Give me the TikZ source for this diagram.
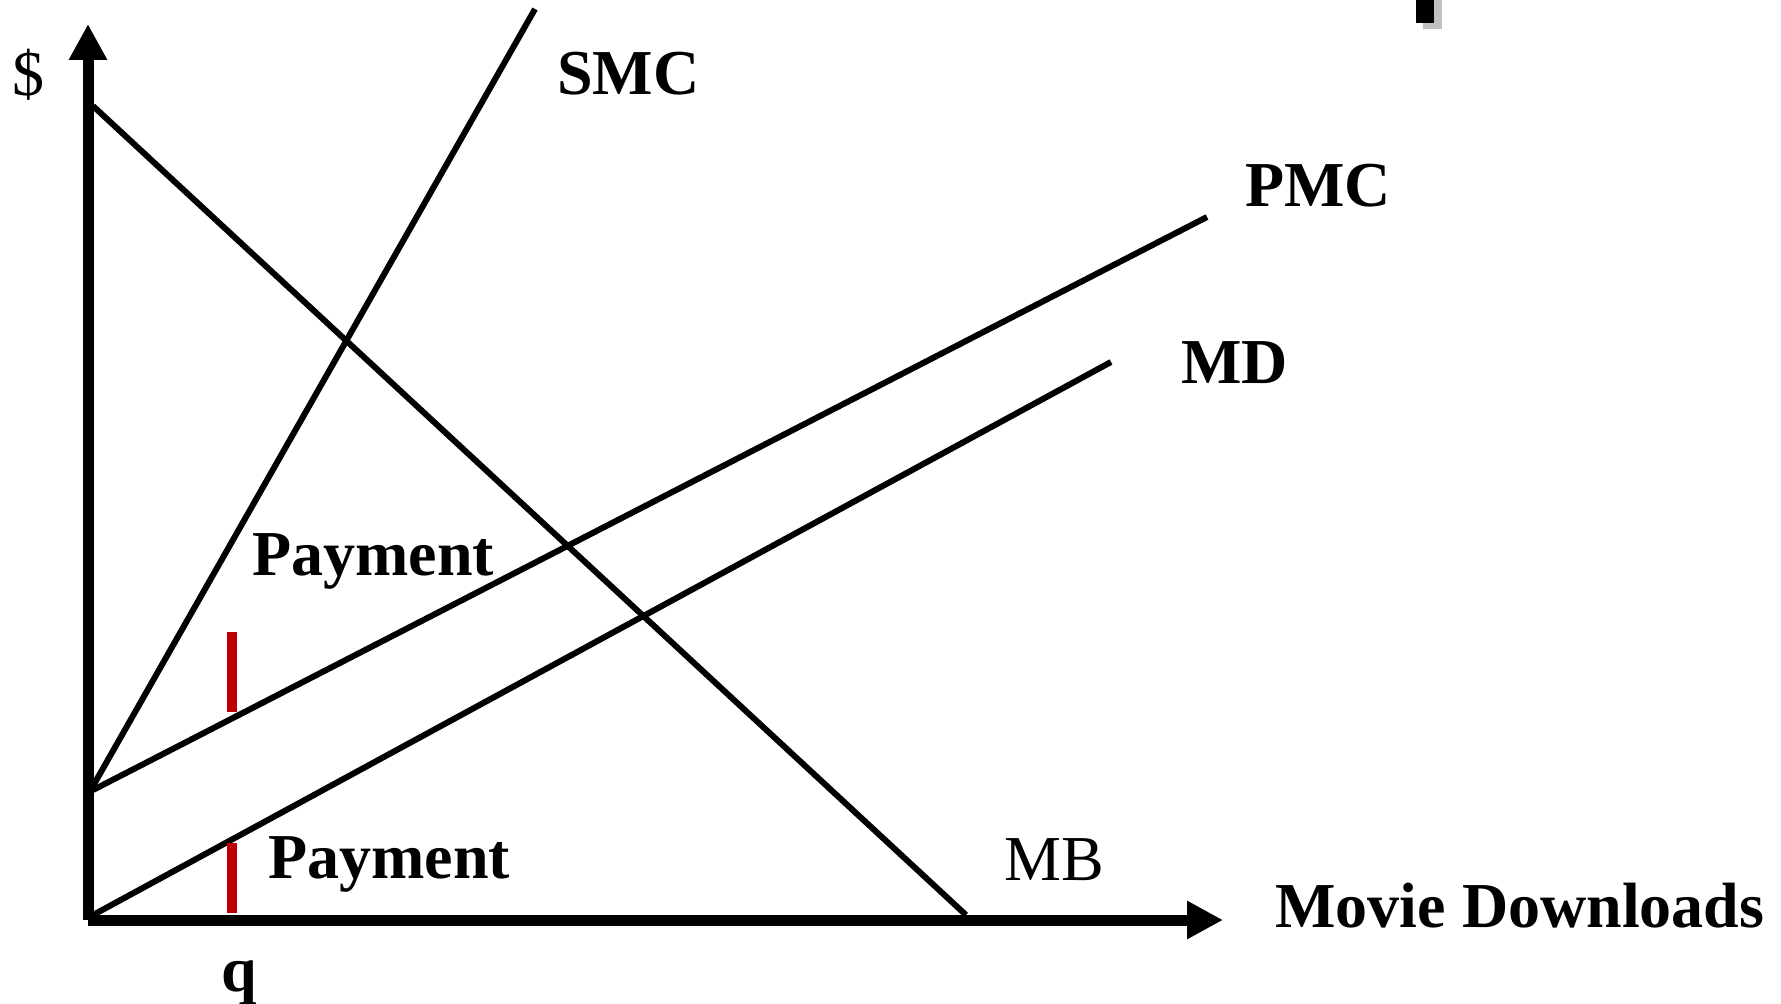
\documentclass[tikz,border=0pt]{standalone}
\usepackage{fontspec}
\setmainfont{Liberation Serif}
\usetikzlibrary{arrows.meta}
\definecolor{PayRed}{HTML}{C00000}
\definecolor{MarkGray}{HTML}{C0C0C0}
\tikzset{
  axis line/.style = {line width=5.5pt, -{Triangle[length=18pt,width=18pt]}},
  curve/.style = {line width=3pt},
  payment mark/.style = {draw=PayRed, line width=5pt},
  curve label/.style = {
    font=\fontsize{32}{38}\selectfont\bfseries,
    anchor=base west,
    inner sep=0pt
  },
  plain label/.style = {curve label, font=\fontsize{32}{38}\selectfont},
}

\begin{document}
\begin{tikzpicture}[x=0.5pt,y=-0.5pt]
  \useasboundingbox (0,0) rectangle (1781,1004);

  % corner mark
  \fill[MarkGray] (1423,0) rectangle (1442,29);
  \fill[black] (1416,0) rectangle (1434,23);

  \coordinate (origin) at (88,920);
  \coordinate (ytip) at (88,24);
  \coordinate (xtip) at (1223,920);

  \coordinate (mb start) at (93,106);
  \coordinate (mb end) at (966,915);
  \coordinate (smc start) at (93,786);
  \coordinate (smc end) at (535,9);
  \coordinate (pmc start) at (93,790);
  \coordinate (pmc end) at (1207,217);
  \coordinate (md start) at (93,915);
  \coordinate (md end) at (1111,362);

  \coordinate (pay top a) at (232,632);
  \coordinate (pay top b) at (232,712);
  \coordinate (pay low a) at (232,843);
  \coordinate (pay low b) at (232,913);

  \draw[axis line] (origin) -- (ytip);
  \draw[axis line] (origin) -- (xtip);

  \draw[curve] (mb start) -- (mb end);
  \draw[curve] (smc start) -- (smc end);
  \draw[curve] (pmc start) -- (pmc end);
  \draw[curve] (md start) -- (md end);

  \draw[payment mark] (pay top a) -- (pay top b);
  \draw[payment mark] (pay low a) -- (pay low b);

  \node[plain label] (dollar) at (12,96) {\$};
  \node[curve label] (smc) at (557,95) {SMC};
  \node[curve label] (pmc) at (1245,207) {PMC};
  \node[curve label] (md) at (1181,384) {MD};
  \node[plain label] (mb) at (1004,880) {MB};
  \node[curve label] (pay top) at (252,575) {Payment};
  \node[curve label] (pay low) at (268,878) {Payment};
  \node[curve label] (xlabel) at (1275,927) {Movie Downloads};
  \node[curve label] (q) at (221,991) {q};
\end{tikzpicture}
\end{document}
